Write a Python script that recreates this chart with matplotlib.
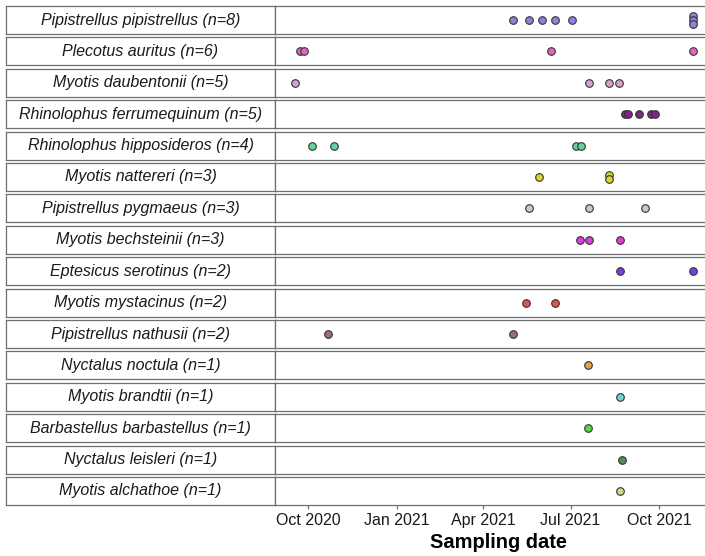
import numpy as np
import pandas as pd
import matplotlib
matplotlib.use('Agg')
import matplotlib.pyplot as plt
import matplotlib.dates as mdates

species = ['Pipistrellus pipistrellus', 'Plecotus auritus', 'Myotis daubentonii',
           'Rhinolophus ferrumequinum', 'Rhinolophus hipposideros', 'Myotis nattereri',
           'Pipistrellus pygmaeus', 'Myotis bechsteinii', 'Eptesicus serotinus',
           'Myotis mystacinus', 'Pipistrellus nathusii', 'Nyctalus noctula',
           'Myotis brandtii', 'Barbastellus barbastellus', 'Nyctalus leisleri',
           'Myotis alchathoe']
counts = [8, 6, 5, 5, 4, 3, 3, 3, 2, 2, 2, 1, 1, 1, 1, 1]
dates = [
    ['2021-05-02', '2021-05-19', '2021-06-01', '2021-06-15', '2021-07-02',
     '2021-11-05', '2021-11-05', '2021-11-05'],
    ['2020-09-22', '2020-09-26', '2021-06-11', '2021-11-05'],
    ['2020-09-17', '2021-07-20', '2021-08-10', '2021-08-20'],
    ['2021-08-27', '2021-08-30', '2021-09-10', '2021-09-23', '2021-09-27'],
    ['2020-10-05', '2020-10-28', '2021-07-07', '2021-07-12'],
    ['2021-05-29', '2021-08-10', '2021-08-10'],
    ['2021-05-19', '2021-07-20', '2021-09-16'],
    ['2021-07-11', '2021-07-20', '2021-08-21'],
    ['2021-08-21', '2021-11-05'],
    ['2021-05-16', '2021-06-15'],
    ['2020-10-21', '2021-05-02'],
    ['2021-07-19'],
    ['2021-08-21'],
    ['2021-07-19'],
    ['2021-08-24'],
    ['2021-08-21'],
]
colors = ['#8a84dc', '#e466bc', '#d8a2cf', '#7b2a80', '#5fd49a', '#d6d62c',
          '#c9c9bc', '#d840d8', '#7a40dc', '#e25252', '#9b6b8c', '#e2a444',
          '#70d4d0', '#62d244', '#5b8a5e', '#cbdc82']

plt.rcParams['font.family'] = ['Liberation Sans', 'DejaVu Sans']

W, H = 705, 556
fig = plt.figure(figsize=(W / 100, H / 100), dpi=100)

top, ph, step = 6, 28, 31.4
x0, xs, xr = 6, 275, 712.5
border = '#6f6f6f'

alld = pd.to_datetime([d for row in dates for d in row])
lo, hi = alld.min(), alld.max()
pad = (hi - lo) * 0.05

for i, (name, n, ds, c) in enumerate(zip(species, counts, dates, colors)):
    ytop = top + i * step
    b = 1 - (ytop + ph) / H
    sax = fig.add_axes([x0 / W, b, (xs - x0) / W, ph / H])
    sax.set_xticks([])
    sax.set_yticks([])
    for sp in sax.spines.values():
        sp.set_color(border)
        sp.set_linewidth(0.9)
    sax.text(0.5, 0.5, f'{name} (n={n})', style='italic', ha='center', va='center',
             fontsize=11.5, color='#1a1a1a', transform=sax.transAxes)

    ax = fig.add_axes([xs / W, b, (xr - xs) / W, ph / H])
    d = pd.to_datetime(ds)
    # stack repeated dates vertically
    y = np.zeros(len(d))
    for u in d.unique():
        idx = np.where(d == u)[0]
        k = len(idx)
        y[idx] = (np.arange(k) - (k - 1) / 2) * -0.16
    ax.scatter(d, y, s=30, color=c, edgecolor='#333333', linewidth=0.8, zorder=3)
    ax.set_ylim(-0.5, 0.5)
    ax.set_xlim(lo - pad, hi + pad)
    ax.set_yticks([])
    for sp in ax.spines.values():
        sp.set_color(border)
        sp.set_linewidth(0.9)
    if i < len(species) - 1:
        ax.set_xticks([])
    else:
        ax.xaxis.set_major_locator(mdates.MonthLocator(bymonth=[1, 4, 7, 10]))
        ax.xaxis.set_major_formatter(mdates.DateFormatter('%b %Y'))
        ax.tick_params(axis='x', length=3, width=0.9, color=border, labelsize=11.5,
                       labelcolor='#1a1a1a', pad=3)

fig.text(498 / W, 1 - 542 / H, 'Sampling date', fontweight='bold', fontsize=14.4,
         ha='center', va='center')

fig.savefig('out.png', dpi=100)
